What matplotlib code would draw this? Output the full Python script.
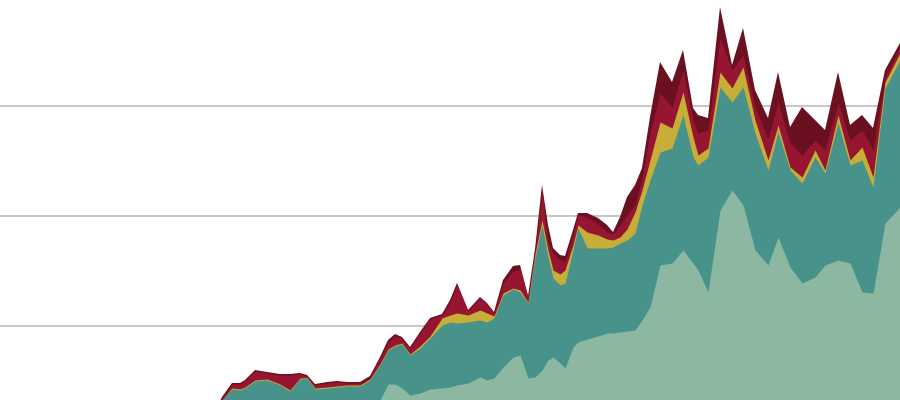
import numpy as np
import matplotlib
matplotlib.use('Agg')
import matplotlib.pyplot as plt

# time index and cumulative levels (top of each band)
t = [215, 222, 232, 240, 245, 255, 267, 280, 290, 300, 307, 315, 327, 337, 347, 360, 370,
     380, 388, 395, 402, 410, 420, 430, 442, 450, 457, 468, 480, 487, 494, 503, 513, 520,
     528, 535, 542, 548, 553, 560, 565, 573, 578, 587, 598, 607, 613, 620, 627, 635, 642,
     650, 660, 672, 683, 693, 698, 708, 720, 732, 743, 755, 768, 778, 790, 802, 815, 825,
     838, 850, 862, 873, 885, 900]

top_light = [20, 20, 20, 20, 20, 20, 20, 20, 20, 20, 20, 20, 20, 20, 20, 20, 20,
             36, 52, 52, 48, 41, 43, 47, 48, 49, 51, 53, 59, 56, 58, 69, 79, 81,
             58, 59, 66, 76, 79, 73, 68, 89, 94, 97, 100, 103, 103, 104, 105, 106, 116,
             129, 171, 173, 186, 173, 166, 144, 226, 246, 231, 186, 171, 199, 169, 153, 159, 171,
             176, 173, 144, 143, 213, 229]
top_teal = [24, 36, 47, 46, 48, 55, 56, 51, 45, 57, 58, 47, 48, 49, 50, 50, 56,
            71, 86, 90, 92, 81, 88, 98, 111, 114, 113, 114, 116, 114, 118, 141, 147, 144,
            133, 178, 211, 179, 158, 151, 153, 186, 208, 188, 188, 188, 189, 193, 196, 203, 231,
            256, 284, 288, 321, 279, 271, 279, 349, 334, 349, 303, 266, 304, 266, 253, 279, 263,
            313, 271, 276, 249, 348, 376]
top_yellow = [24, 36, 48, 47, 49, 56, 57, 52, 46, 58, 58.5, 48, 49, 50, 51, 51, 57,
              72, 87, 91, 93, 82, 90, 100, 118, 121, 123, 121, 126, 123, 120, 143, 148, 146,
              134, 182, 216, 186, 166, 162, 166, 191, 211, 204, 201, 197, 196, 199, 207, 224, 246,
              276, 314, 308, 344, 299, 281, 288, 364, 348, 369, 316, 276, 311, 269, 259, 286, 266,
              321, 276, 289, 259, 354, 383]
top_crimson = [25, 38, 52, 52, 55, 65, 63, 61, 61, 62, 60, 51, 53, 54, 53, 53, 59,
               78, 94, 100, 97, 88, 103, 117, 121, 134, 151, 125, 138, 132, 123, 153, 165, 167,
               139, 185, 244, 194, 183, 176, 174, 201, 221, 219, 212, 204, 202, 211, 221, 231, 258,
               303, 343, 329, 366, 316, 303, 306, 398, 366, 381, 329, 297, 334, 293, 281, 296, 286,
               333, 296, 306, 286, 359, 389]
top_maroon = [25, 39, 53, 53, 56, 66, 64, 62, 62, 63, 61, 52, 54, 55, 54, 54, 60,
              79, 96, 102, 99, 89, 104, 118, 122, 136, 153, 126, 139, 133, 124, 156, 170, 171,
              140, 187, 251, 211, 188, 181, 180, 206, 223, 223, 218, 211, 204, 219, 239, 251, 268,
              319, 374, 354, 386, 328, 321, 318, 429, 371, 408, 346, 318, 364, 309, 329, 316, 306,
              364, 311, 321, 308, 366, 393]

colors = ['#8cb8a1', '#47928a', '#c6ae38', '#961530', '#6b1020']
levels = [top_light, top_teal, top_yellow, top_crimson, top_maroon]

fig = plt.figure(figsize=(9, 4), dpi=100)
ax = fig.add_axes([0, 0, 1, 1])

# draw from the top band down so each band covers the seam of the one above
for i in range(len(levels) - 1, -1, -1):
    ax.fill_between(t, 0, levels[i], color=colors[i], linewidth=0, zorder=3 - i * 0.1)

for g in [110, 220, 330]:
    ax.axhline(g, color='#c8c8c8', linewidth=1.5, zorder=1)

ax.set_xlim(0, 900)
ax.set_ylim(36, 436)
ax.axis('off')

plt.savefig('out.png', dpi=100)
